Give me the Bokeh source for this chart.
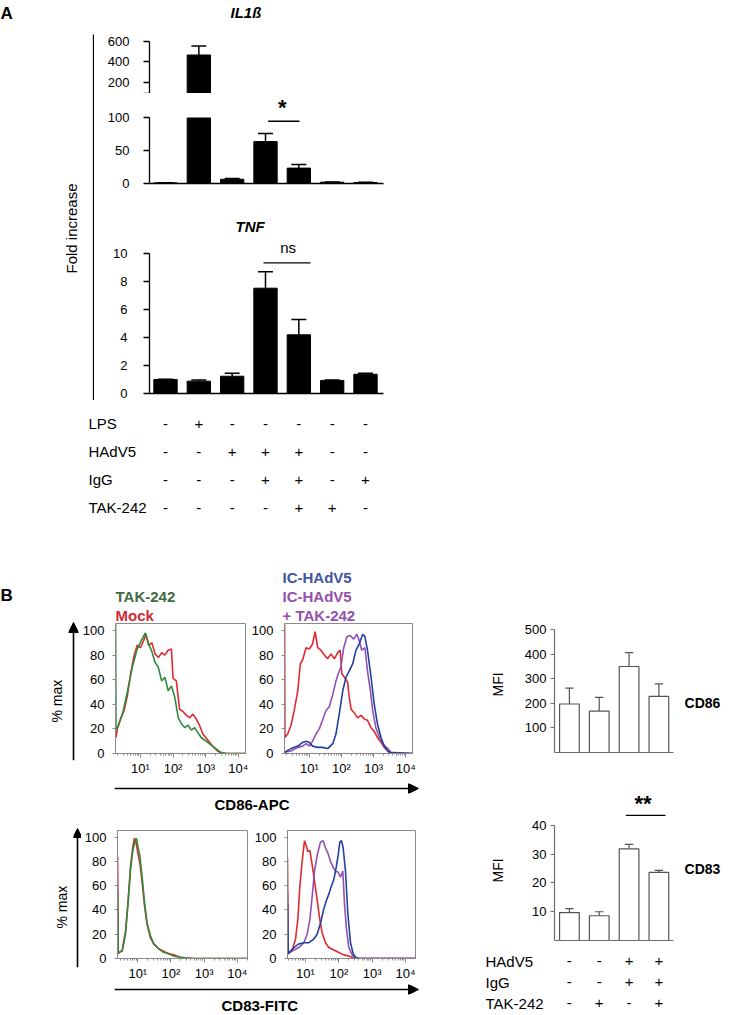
import numpy as np
from bokeh.plotting import figure
from bokeh.layouts import row, column
from bokeh.models import Range1d, FactorRange, FixedTicker, Title, Arrow, NormalHead
from bokeh.core.properties import value
from bokeh.embed import file_html
from bokeh.resources import INLINE

FONT = "Liberation Sans"

# ---------------- Panel A data ----------------
il1b_mean = [1.0, 467, 6.5, 64, 23.5, 2.0, 1.5]
il1b_err = [0.3, 88, 1.0, 12.5, 5.5, 0.3, 0.3]
il1b_split = 100          # axis break: lower segment 0-100, upper 100-600
tnf_mean = [1.0, 0.88, 1.23, 7.5, 4.18, 0.93, 1.37]
tnf_err = [0.02, 0.09, 0.22, 1.17, 1.09, 0.03, 0.08]
a_rows = ["LPS", "HAdV5", "IgG", "TAK-242"]
a_lps = ["-", "+", "-", "-", "-", "-", "-"]
a_hadv5 = ["-", "-", "+", "+", "+", "-", "-"]
a_igg = ["-", "-", "-", "+", "+", "-", "+"]
a_tak = ["-", "-", "-", "-", "+", "+", "-"]

# ---------------- Panel B data ----------------
cd86_mfi = [198, 169, 351, 229]
cd86_err = [65, 56, 57, 51]
cd83_mfi = [9.7, 8.6, 31.9, 23.7]
cd83_err = [1.4, 1.4, 1.5, 0.7]
b_rows = ["HAdV5", "IgG", "TAK-242"]
b_hadv5 = ["-", "-", "+", "+"]
b_igg = ["-", "-", "+", "+"]
b_tak = ["-", "+", "-", "+"]

# histograms: x = log10(fluorescence), y = % of max
cd86_mock_x = [0.25, 0.30, 0.40, 0.50, 0.60, 0.70, 0.80, 0.90, 1.00, 1.10, 1.17, 1.25, 1.35, 1.45, 1.55, 1.65, 1.75, 1.85, 1.95,
               2.00, 2.10, 2.20, 2.31, 2.41, 2.51, 2.61, 2.71, 2.81, 2.91, 3.06, 3.21, 3.36, 3.51, 4.22]
cd86_mock_y = [13, 21, 29, 35, 47, 65, 79, 88, 86, 92, 97, 88, 90, 81, 78, 82, 80, 84, 85,
               61, 59, 36, 34, 31, 29, 32, 28, 23, 16, 11, 6, 2, 0, 0]
cd86_tak_x = [0.24, 0.25, 0.30, 0.45, 0.60, 0.75, 0.90, 1.05, 1.15, 1.25, 1.35, 1.45, 1.55, 1.65, 1.75, 1.85, 1.95, 2.05, 2.16, 2.26,
              2.36, 2.46, 2.56, 2.66, 2.76, 2.86, 3.06, 3.26, 3.46, 3.66, 4.22]
cd86_tak_y = [105, 19, 21, 32, 50, 70, 85, 93, 98, 89, 83, 74, 70, 59, 62, 51, 55, 46, 29, 24,
              21, 23, 19, 21, 17, 13, 9, 5, 1, 0, 0]
cd86_mock2_x = [0.23, 0.24, 0.33, 0.43, 0.53, 0.64, 0.72, 0.79, 0.90, 1.00, 1.10, 1.18, 1.26, 1.36, 1.47, 1.57, 1.67, 1.78, 1.88, 1.96,
                2.01, 2.09, 2.19, 2.24, 2.30, 2.40, 2.50, 2.61, 2.71, 2.81, 2.92, 3.02, 3.12, 3.23, 3.33, 3.44, 3.54, 4.21]
cd86_mock2_y = [105, 13, 16, 23, 35, 51, 73, 76, 86, 85, 89, 99, 86, 84, 80, 77, 81, 77, 82, 84,
                65, 62, 58, 46, 36, 33, 29, 31, 28, 27, 21, 18, 13, 9, 5, 2, 0, 0]
cd86_ictak_x = [0.23, 0.43, 0.64, 0.79, 0.90, 1.00, 1.10, 1.21, 1.31, 1.41, 1.52, 1.62, 1.73, 1.83, 1.90, 1.98, 2.07, 2.17, 2.27, 2.38,
                2.48, 2.55, 2.63, 2.73, 2.81, 2.90, 2.97, 3.07, 3.18, 3.28, 3.44, 3.54, 4.21]
cd86_ictak_y = [1, 2, 5, 6, 8, 6, 10, 16, 20, 27, 35, 38, 48, 59, 65, 70, 86, 95, 96, 93,
                97, 92, 84, 86, 67, 51, 35, 21, 13, 8, 4, 1, 0]
cd86_ic_x = [0.23, 0.43, 0.64, 0.79, 0.90, 1.00, 1.10, 1.26, 1.41, 1.57, 1.73, 1.83, 1.93, 2.04, 2.14, 2.24, 2.35, 2.45, 2.55, 2.66,
             2.73, 2.81, 2.92, 3.02, 3.12, 3.23, 3.33, 3.44, 3.54, 4.21]
cd86_ic_y = [1, 4, 6, 9, 10, 9, 6, 5, 5, 4, 8, 16, 32, 51, 62, 67, 73, 84, 89, 97,
             95, 84, 62, 40, 24, 13, 6, 2, 0.5, 0]

cd83_mock_x = [0.39, 0.41, 0.53, 0.63, 0.71, 0.78, 0.85, 0.90, 0.95, 1.00, 1.06, 1.13, 1.20, 1.28, 1.38, 1.48, 1.63, 1.78, 1.93, 2.08,
               2.28, 2.48, 2.68, 4.31]
cd83_mock_y = [84, 4, 7, 23, 49, 76, 92, 99, 95, 87, 79, 63, 44, 28, 17, 12, 8, 6, 4, 3, 1, 0.3, 0, 0]
cd83_tak_x = [0.39, 0.41, 0.53, 0.63, 0.71, 0.78, 0.85, 0.91, 0.96, 1.01, 1.06, 1.13, 1.20, 1.28, 1.38, 1.48, 1.63, 1.78, 1.93, 2.08,
              2.28, 2.48, 2.68, 4.31]
cd83_tak_y = [55, 5, 6, 20, 47, 73, 89, 96, 99, 91, 85, 67, 47, 29, 19, 12, 8, 5, 4, 2, 1, 0.3, 0, 0]
cd83_mock2_x = [0.46, 0.48, 0.60, 0.70, 0.77, 0.83, 0.90, 0.97, 1.02, 1.07, 1.13, 1.20, 1.27, 1.35, 1.43, 1.50, 1.60, 1.70, 1.85, 2.00,
                2.15, 2.30, 2.45, 2.55, 4.30]
cd83_mock2_y = [83, 4, 7, 16, 32, 59, 80, 97, 93, 88, 89, 77, 64, 48, 32, 21, 13, 9, 7, 5, 3, 2, 0.5, 0, 0]
cd83_ictak_x = [0.46, 0.48, 0.65, 0.80, 0.95, 1.05, 1.13, 1.20, 1.27, 1.35, 1.45, 1.53, 1.60, 1.67, 1.75, 1.83, 1.90, 1.98, 2.05, 2.12,
                2.17, 2.23, 2.30, 2.40, 2.50, 2.60, 4.30]
cd83_ictak_y = [55, 4, 7, 9, 13, 20, 32, 51, 72, 85, 96, 97, 91, 87, 80, 75, 72, 71, 67, 72, 45, 24, 9, 3, 0.5, 0, 0]
cd83_ic_x = [0.46, 0.48, 0.65, 0.80, 0.95, 1.10, 1.25, 1.35, 1.45, 1.55, 1.63, 1.70, 1.77, 1.85, 1.92, 1.98, 2.03, 2.08, 2.13, 2.20,
             2.27, 2.35, 2.43, 2.50, 2.60, 4.30]
cd83_ic_y = [45, 4, 9, 12, 13, 13, 16, 20, 29, 41, 48, 53, 59, 65, 75, 85, 96, 97, 91, 72, 37, 13, 4, 1, 0, 0]

log_ticks = [1, 2, 3, 4]
log_labels = {1: "10\u00b9", 2: "10\u00b2", 3: "10\u00b3", 4: "10\u2074"}
pct_ticks = [0, 20, 40, 60, 80, 100]

RED = "#e02a30"
GREEN = "#2f8a3c"
BLUE = "#23409e"
PURPLE = "#9150b3"


def make_fig(w, h, l, r, t, b, xr, yr):
    p = figure(width=w, height=h, x_range=xr, y_range=yr, output_backend="svg",
               toolbar_location=None, min_border_left=l, min_border_right=r,
               min_border_top=t, min_border_bottom=b)
    p.outline_line_color = None
    p.grid.visible = False
    p.background_fill_color = "white"
    p.border_fill_color = "white"
    return p


def bare_axis(ax):
    ax.ticker = FixedTicker(ticks=[])
    ax.major_tick_out = 0
    ax.major_tick_in = 0
    ax.minor_tick_out = 0
    ax.minor_tick_in = 0
    ax.major_label_standoff = 0
    ax.major_label_text_font_size = "0px"


def num_axis(ax, color, lw, ticks, fs="13px", tick_out=6, standoff=5):
    ax.ticker = FixedTicker(ticks=ticks)
    ax.axis_line_color = color
    ax.axis_line_width = lw
    ax.major_tick_line_color = color
    ax.major_tick_line_width = lw
    ax.major_tick_out = tick_out
    ax.major_tick_in = 0
    ax.minor_tick_line_color = None
    ax.major_label_text_font = FONT
    ax.major_label_text_font_size = fs
    ax.major_label_text_color = "black"
    ax.major_label_standoff = standoff


def add_title(p, text, color="black", size="15px", style="bold", offset=0, standoff=0, where="above"):
    p.add_layout(Title(text=text, align="left", offset=offset, standoff=standoff, text_font=FONT,
                       text_font_size=size, text_font_style=style, text_color=color), where)


def error_bars(p, xs, tops, errs, cap, color, lw):
    hi = [t + e for t, e in zip(tops, errs)]
    p.segment(x0=xs, y0=tops, x1=xs, y1=hi, line_color=color, line_width=lw)
    p.segment(x0=[x - cap / 2 for x in xs], y0=hi, x1=[x + cap / 2 for x in xs], y1=hi,
              line_color=color, line_width=lw)


def add_table(p, rows, sign_rows, xs, label_x, fs="15px"):
    tx, ty, tt = [], [], []
    for lab, signs in zip(rows, sign_rows):
        for x, s in zip(xs, signs):
            tx.append(x)
            ty.append(lab)
            tt.append(s)
    p.text(x=tx, y=ty, text=tt, text_font=value(FONT), text_font_size=fs,
           text_align="center", text_baseline="middle", text_color="black")
    p.text(x=[label_x] * len(rows), y=rows, text=rows, text_font=value(FONT), text_font_size=fs,
           text_align="left", text_baseline="middle", text_color="black")


# =================== PANEL A ===================
xa = list(range(1, len(il1b_mean) + 1))
xr_a = Range1d(0.52, 7.54)
BAR_W = 0.7

# label column with long "Fold increase" rule
f_fold = make_fig(94, 400, 93, 0, 22, 0, Range1d(0, 1), Range1d(0, 378))
f_fold.xaxis.visible = False
bare_axis(f_fold.yaxis[0])
f_fold.yaxis[0].axis_line_color = "black"
f_fold.yaxis[0].axis_line_width = 1.3
f_fold.yaxis[0].bounds = (0, 367)
add_title(f_fold, "A", size="17px", offset=-93, standoff=2)
add_title(f_fold, "Fold increase", size="15px", style="normal", offset=127, standoff=27, where="left")

# IL1b upper segment
p_up = make_fig(306, 93, 55, 17, 20, 0, xr_a, Range1d(95.2, 790.4))
p_up.xaxis.visible = False
ay = p_up.yaxis[0]
num_axis(ay, "black", 1.3, [100, 200, 400, 600], tick_out=6, standoff=14)
ay.major_label_overrides = {100: ""}
ay.bounds = (il1b_split, 600)
up_x = [x for x, v in zip(xa, il1b_mean) if v > il1b_split]
up_top = [v for v in il1b_mean if v > il1b_split]
up_err = [e for v, e in zip(il1b_mean, il1b_err) if v > il1b_split]
p_up.vbar(x=up_x, bottom=il1b_split, top=up_top, width=BAR_W, fill_color="black", line_color="black")
error_bars(p_up, up_x, up_top, up_err, 0.45, "black", 1.5)
add_title(p_up, "IL1\u00df", size="15px", style="bold italic", offset=81, standoff=2)

# IL1b lower segment
p_lo = make_fig(306, 97, 55, 17, 0, 7, xr_a, Range1d(0, 137.4))
bare_axis(p_lo.xaxis[0])
p_lo.xaxis[0].axis_line_color = "black"
p_lo.xaxis[0].axis_line_width = 1.3
ay = p_lo.yaxis[0]
num_axis(ay, "black", 1.3, [0, 50, 100], tick_out=6, standoff=14)
ay.bounds = (0, il1b_split)
lo_top = [min(v, il1b_split) for v in il1b_mean]
p_lo.vbar(x=xa, top=lo_top, width=BAR_W, fill_color="black", line_color="black")
lo_x = [x for x, v in zip(xa, il1b_mean) if v < il1b_split]
lo_v = [v for v in il1b_mean if v < il1b_split]
lo_e = [e for v, e in zip(il1b_mean, il1b_err) if v < il1b_split]
error_bars(p_lo, lo_x, lo_v, lo_e, 0.45, "black", 1.5)
p_lo.segment(x0=[4.08], y0=[95], x1=[5.02], y1=[95], line_color="black", line_width=1.3)
p_lo.text(x=[4.5], y=[116.5], text=["*"], text_font=value(FONT), text_font_size="22px",
          text_font_style="bold", text_align="center", text_baseline="alphabetic")

# TNF
p_tnf = make_fig(306, 210, 55, 17, 48, 7, xr_a, Range1d(0, 11.04))
bare_axis(p_tnf.xaxis[0])
p_tnf.xaxis[0].axis_line_color = "black"
p_tnf.xaxis[0].axis_line_width = 1.3
ay = p_tnf.yaxis[0]
num_axis(ay, "black", 1.3, [0, 2, 4, 6, 8, 10], tick_out=6, standoff=16)
ay.bounds = (0, 10)
p_tnf.vbar(x=xa, top=tnf_mean, width=BAR_W, fill_color="black", line_color="black")
error_bars(p_tnf, xa, tnf_mean, tnf_err, 0.45, "black", 1.5)
p_tnf.segment(x0=[3.94], y0=[9.3], x1=[5.35], y1=[9.3], line_color="black", line_width=1.3)
p_tnf.text(x=[4.68], y=[10.43], text=["ns"], text_font=value(FONT), text_font_size="15px",
           text_align="center", text_baseline="alphabetic")
add_title(p_tnf, "TNF", size="15px", style="bold italic", offset=86, standoff=8)

# condition table A
tab_a = make_fig(400, 125, 88, 17, 9, 4, Range1d(-1.31, 7.54), FactorRange(factors=a_rows[::-1]))
tab_a.xaxis.visible = False
tab_a.yaxis.visible = False
add_table(tab_a, a_rows, [a_lps, a_hadv5, a_igg, a_tak], xa, -1.31)

panel_a = column(row(f_fold, column(p_up, p_lo, p_tnf)), tab_a)

# =================== PANEL B ===================
minor_log = [d + np.log10(k) for d in range(0, 5) for k in range(2, 10)]


def hist_fig(w, h, l, r, t, b, xr, yr):
    p = make_fig(w, h, l, r, t, b, xr, yr)
    p.outline_line_color = "#8a8a8a"
    xa_ = p.xaxis[0]
    num_axis(xa_, "#8a8a8a", 1, log_ticks, fs="13px", tick_out=4, standoff=3)
    xa_.ticker = FixedTicker(ticks=log_ticks, minor_ticks=minor_log)
    xa_.minor_tick_line_color = "#8a8a8a"
    xa_.minor_tick_out = 2
    xa_.minor_tick_in = 0
    xa_.major_label_overrides = log_labels
    ya_ = p.yaxis[0]
    num_axis(ya_, "#8a8a8a", 1, pct_ticks, fs="13px", tick_out=3, standoff=8)
    return p


def arrow_fig(w, h, l, r, t, b, yr, y_tip, vertical, size):
    p = make_fig(w, h, l, r, t, b, Range1d(0, 1), yr)
    head = NormalHead(size=size, fill_color="black", line_color="black", line_width=1)
    if vertical:
        p.add_layout(Arrow(end=head, x_start=0.5, y_start=0, x_end=0.5, y_end=y_tip,
                           line_color="black", line_width=1.6))
    else:
        p.add_layout(Arrow(end=head, x_start=0, y_start=y_tip, x_end=1, y_end=y_tip,
                           line_color="black", line_width=1.6))
    p.xaxis.visible = False
    p.yaxis.visible = False
    return p


# top row (CD86)
f_pm1 = arrow_fig(79, 253, 68, 1, 80, 18, Range1d(0, 155), 138, True, 10)
add_title(f_pm1, "B", size="17px", offset=-68, standoff=2)
add_title(f_pm1, "% max", size="14px", style="normal", offset=38, standoff=8, where="left")

h_tl = hist_fig(169, 253, 34, 3, 98, 25, Range1d(0.236, 4.22), Range1d(0, 105.7))
h_tl.line(cd86_mock_x, cd86_mock_y, line_color=RED, line_width=1.6)
h_tl.line(cd86_tak_x, cd86_tak_y, line_color=GREEN, line_width=1.6)
add_title(h_tl, "Mock", color="#d02a36", standoff=0)
add_title(h_tl, "TAK-242", color="#3e6b3f", standoff=0)

h_tr = hist_fig(172, 253, 35, 8, 98, 25, Range1d(0.227, 4.21), Range1d(0, 105.7))
h_tr.line(cd86_mock2_x, cd86_mock2_y, line_color=RED, line_width=1.6)
h_tr.line(cd86_ictak_x, cd86_ictak_y, line_color=PURPLE, line_width=1.6)
h_tr.line(cd86_ic_x, cd86_ic_y, line_color=BLUE, line_width=1.6)
add_title(h_tr, "+ TAK-242", color="#9350ad", offset=-2, standoff=0)
add_title(h_tr, "IC-HAdV5", color="#9350ad", offset=-2, standoff=0)
add_title(h_tr, "IC-HAdV5", color="#3d55a2", offset=-2, standoff=0)

f_x1 = arrow_fig(420, 34, 113, 2, 5, 19, Range1d(0, 1), 0.5, False, 10)
add_title(f_x1, "CD86-APC", offset=100, standoff=0, where="below")

# bottom row (CD83)
f_pm2 = arrow_fig(81, 171, 73, 0, 16, 16, Range1d(0, 1), 1, True, 9)
add_title(f_pm2, "% max", size="14px", style="normal", offset=39, standoff=8, where="left")

h_bl = hist_fig(169, 171, 36, 3, 18, 22, Range1d(0.387, 4.31), Range1d(0, 105.4))
h_bl.line(cd83_mock_x, cd83_mock_y, line_color=RED, line_width=1.6)
h_bl.line(cd83_tak_x, cd83_tak_y, line_color=GREEN, line_width=1.6)

h_br = hist_fig(170, 171, 37, 5, 18, 22, Range1d(0.46, 4.30), Range1d(0, 105.4))
h_br.line(cd83_mock2_x, cd83_mock2_y, line_color=RED, line_width=1.6)
h_br.line(cd83_ictak_x, cd83_ictak_y, line_color=PURPLE, line_width=1.6)
h_br.line(cd83_ic_x, cd83_ic_y, line_color=BLUE, line_width=1.6)

f_x2 = arrow_fig(420, 30, 114, 2, 1, 19, Range1d(0, 1), 0.5, False, 10)
add_title(f_x2, "CD83-FITC", offset=107, standoff=0, where="below")

hist_block = column(row(column(f_pm1), h_tl, h_tr), f_x1,
                    row(column(f_pm2), h_bl, h_br), f_x2)

# MFI bar charts
xb = list(range(1, len(cd86_mfi) + 1))
xr_b = Range1d(0.5, 6.2)
GRAY = "#6e6e6e"


def mfi_fig(h, t, b, yr, ticks, vals, errs, name, name_y, mfi_offset, mfi_standoff):
    p = make_fig(304, h, 134, 0, t, b, xr_b, yr)
    bare_axis(p.xaxis[0])
    p.xaxis[0].axis_line_color = GRAY
    p.xaxis[0].axis_line_width = 1.2
    p.xaxis[0].bounds = (0.5, len(vals) + 0.49)
    ay_ = p.yaxis[0]
    num_axis(ay_, GRAY, 1.2, ticks, tick_out=4, standoff=4)
    ay_.bounds = (0, ticks[-1])
    p.vbar(x=xb, top=vals, width=0.66, fill_color="white", line_color="#555555", line_width=1.2)
    error_bars(p, xb, vals, errs, 0.28, "#555555", 1.2)
    add_title(p, "MFI", size="14px", style="normal", offset=mfi_offset, standoff=mfi_standoff, where="left")
    p.text(x=[len(vals) + 0.86], y=[name_y], text=[name], text_font=value(FONT), text_font_size="14px",
           text_font_style="bold", text_align="left", text_baseline="middle")
    return p


p_cd86 = mfi_fig(235, 104, 8, Range1d(0, 502), [100, 200, 300, 400, 500], cd86_mfi, cd86_err,
                 "CD86", 200, 56, 32)
p_cd83 = mfi_fig(185, 20, 5, Range1d(0, 55.65), [10, 20, 30, 40], cd83_mfi, cd83_err,
                 "CD83", 25, 58, 48)
p_cd83.segment(x0=[2.89], y0=[43.5], x1=[4.22], y1=[43.5], line_color="black", line_width=1.3)
p_cd83.text(x=[3.47], y=[47.5], text=["**"], text_font=value(FONT), text_font_size="22px",
            text_font_style="bold", text_align="center", text_baseline="alphabetic")

tab_b = make_fig(304, 68, 65, 51, 5, 0, Range1d(-1.81, 4.49), FactorRange(factors=b_rows[::-1]))
tab_b.xaxis.visible = False
tab_b.yaxis.visible = False
add_table(tab_b, b_rows, [b_hadv5, b_igg, b_tak], xb, -1.81)

panel_b = row(hist_block, column(p_cd86, p_cd83, row(tab_b)))

layout = column(panel_a, panel_b)
open("out.html", "w").write(file_html(layout, INLINE))
